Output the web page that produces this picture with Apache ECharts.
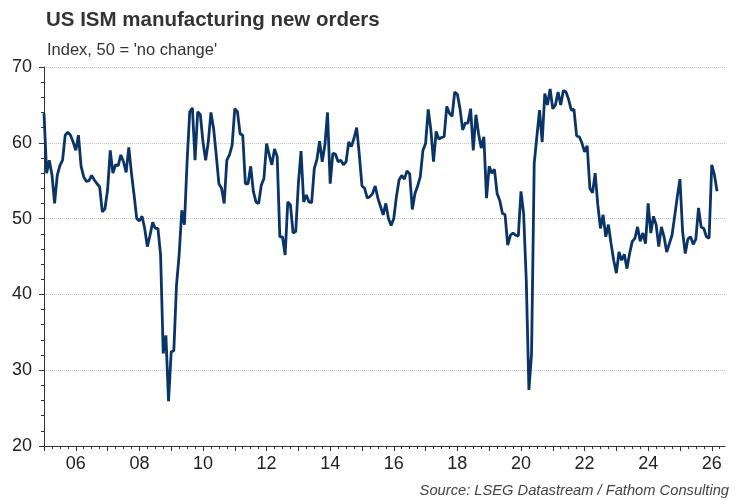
<!DOCTYPE html>
<html>
<head>
<meta charset="utf-8">
<title>US ISM manufacturing new orders</title>
<script src="https://cdn.jsdelivr.net/npm/echarts@6/dist/echarts.min.js"></script>
<style>
  html, body { margin: 0; padding: 0; background: #fff; }
  #chart { width: 750px; height: 500px; }
</style>
</head>
<body>
<div id="chart"></div>
<script>
// monthly, Jan 2005 .. Mar 2026
var newOrders = [
  63.9, 56.0, 57.7, 55.8, 52.0, 55.7, 57.0, 57.7, 61.0, 61.4, 61.0, 60.1, // 2005
  59.0, 61.0, 56.9, 55.5, 54.9, 55.0, 55.7, 55.1, 54.6, 54.2, 50.9, 51.3, // 2006
  53.8, 59.0, 56.0, 57.1, 57.0, 58.4, 57.5, 56.1, 59.4, 56.0, 53.1, 50.0, // 2007
  49.7, 50.3, 48.7, 46.3, 47.8, 49.5, 48.7, 48.7, 45.2, 32.2, 34.6, 25.9, // 2008
  32.4, 32.6, 41.2, 45.2, 51.1, 49.2, 57.5, 64.1, 64.6, 57.7, 64.1, 63.7, // 2009
  60.1, 57.7, 60.1, 64.0, 61.9, 58.4, 54.6, 54.0, 52.0, 57.7, 58.4, 59.7, // 2010
  64.5, 64.1, 61.2, 61.0, 54.6, 54.6, 56.9, 53.6, 52.2, 52.0, 54.4, 55.3, // 2011
  59.9, 58.4, 57.1, 59.2, 58.2, 47.6, 47.6, 45.2, 52.2, 51.8, 48.1, 48.3, // 2012
  54.6, 58.9, 52.2, 53.1, 52.2, 52.1, 56.6, 57.8, 60.2, 57.5, 59.7, 64.0, // 2013
  54.6, 58.6, 58.5, 57.5, 57.7, 57.1, 57.5, 60.1, 59.5, 60.6, 62.0, 58.4, // 2014
  54.3, 54.0, 52.7, 52.9, 53.3, 54.3, 52.7, 51.6, 50.5, 52.0, 50.0, 49.1, // 2015
  50.0, 52.9, 55.1, 55.7, 55.2, 56.3, 55.9, 51.2, 53.3, 54.3, 55.5, 59.0, // 2016
  59.9, 64.4, 61.7, 57.5, 61.5, 60.5, 60.7, 60.8, 64.8, 63.9, 63.5, 66.7, // 2017
  66.4, 64.5, 61.7, 62.6, 62.6, 64.5, 59.0, 63.7, 61.2, 59.3, 60.8, 52.7, // 2018
  56.9, 56.0, 56.5, 53.3, 52.4, 50.7, 50.5, 46.5, 47.8, 48.1, 47.8, 47.7, // 2019
  53.6, 50.7, 41.9, 27.4, 32.2, 57.3, 60.8, 64.3, 60.1, 66.5, 65.0, 67.1, // 2020
  64.5, 65.0, 66.7, 65.0, 66.9, 66.7, 65.7, 64.3, 64.4, 60.9, 60.8, 60.0, // 2021
  58.8, 59.6, 54.0, 53.4, 56.0, 51.8, 48.7, 50.5, 47.6, 49.2, 46.7, 44.5, // 2022
  42.8, 45.6, 44.5, 45.3, 43.4, 45.4, 47.0, 47.4, 48.9, 47.0, 48.1, 46.7, // 2023
  52.0, 48.1, 50.3, 49.2, 46.3, 48.9, 47.6, 45.6, 46.7, 47.8, 50.3, 52.9, // 2024
  55.2, 48.3, 45.4, 47.3, 47.6, 46.6, 47.3, 51.4, 48.9, 48.7, 47.6, 47.4, // 2025
  57.1, 55.8, 53.6                                                        // 2026
];

var firstYear = 2005;
var lastYear = 2026;
var lastMonth = 6; // axis runs to mid-2026

var months = [];
for (var y = firstYear; y <= lastYear; y++) {
  for (var m = 1; m <= 12; m++) {
    if (y === lastYear && m > lastMonth) break;
    months.push(y + '-' + (m < 10 ? '0' + m : m));
  }
}

var yTicks = { min: 20, max: 70, step: 10 };

var chart = echarts.init(document.getElementById('chart'));

var axisColor = '#333';
var fontFamily = 'Liberation Sans, Arial, sans-serif';

chart.setOption({
  animation: false,
  textStyle: { fontFamily: fontFamily },
  title: [
    {
      text: 'US ISM manufacturing new orders',
      left: 41, top: 5,
      textStyle: { fontSize: 20.5, fontWeight: 'bold', color: '#333' }
    },
    {
      text: "Index, 50 = 'no change'",
      left: 42, top: 37,
      textStyle: { fontSize: 16.5, fontWeight: 'normal', color: '#333' }
    },
    {
      text: 'Source: LSEG Datastream / Fathom Consulting',
      right: 16, top: 478,
      textStyle: { fontSize: 14.7, fontWeight: 'normal', fontStyle: 'italic', color: '#444' }
    }
  ],
  grid: { left: 44, right: 25, top: 67, bottom: 54 },
  xAxis: [
    {
      type: 'category',
      data: months,
      boundaryGap: false,
      axisLine: { lineStyle: { color: axisColor, width: 1 } },
      axisTick: {
        length: 3,
        lineStyle: { color: axisColor },
        interval: function (i) { return i % 3 === 0; }
      },
      axisLabel: { show: false },
      splitLine: { show: false }
    },
    {
      type: 'category',
      data: months,
      position: 'bottom',
      boundaryGap: false,
      axisLine: { show: false },
      axisTick: {
        length: 5,
        lineStyle: { color: axisColor },
        interval: function (i) { return i % 12 === 0; }
      },
      axisLabel: {
        interval: function (i) { return i % 24 === 12; },
        formatter: function (v) { return v.slice(2, 4); },
        fontSize: 18,
        color: '#222',
        margin: 9
      },
      splitLine: { show: false }
    }
  ],
  yAxis: {
    type: 'value',
    min: yTicks.min,
    max: yTicks.max,
    interval: yTicks.step,
    axisLine: { show: true, lineStyle: { color: axisColor, width: 1 } },
    axisTick: { show: true, length: 5, lineStyle: { color: axisColor } },
    minorTick: { show: true, splitNumber: 5, length: 3, lineStyle: { color: axisColor } },
    axisLabel: { fontSize: 18, color: '#222', margin: 12 },
    splitLine: { show: true, lineStyle: { color: '#c4c4c4', type: 'dotted', width: 1 } }
  },
  series: [
    {
      type: 'line',
      data: newOrders,
      xAxisIndex: 0,
      showSymbol: false,
      symbol: 'none',
      lineStyle: { color: '#0b3466', width: 2.8 },
      silent: true
    }
  ]
});
</script>
</body>
</html>
